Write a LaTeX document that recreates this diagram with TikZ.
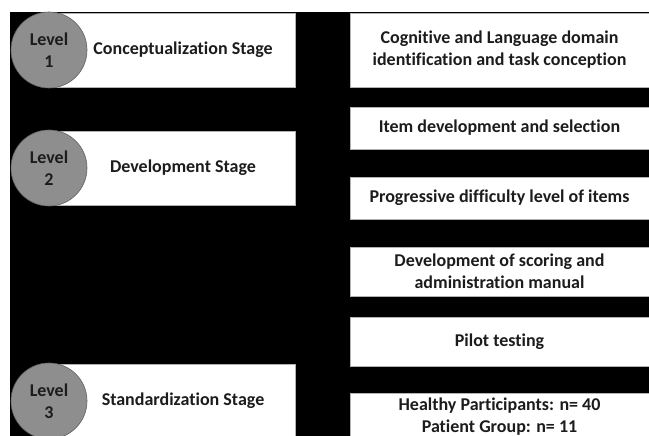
\documentclass[tikz,border=0pt]{standalone}
\usepackage{fontspec}
\setmainfont{Carlito}[Ligatures=NoCommon]
\usetikzlibrary{positioning}
\definecolor{textColor}{RGB}{28,28,28}
\definecolor{levelColor}{RGB}{142,142,142}
\definecolor{levelEdge}{RGB}{96,96,96}

\begin{document}
\begin{tikzpicture}[x=1pt,y=-1pt,textColor,font=\bfseries\fontsize{18}{22}\selectfont]
    \tikzstyle{stage} = [rectangle,fill=white,draw=gray!60,line width=.6pt,outer sep=0pt,minimum width=246pt,minimum height=74pt]
    \tikzstyle{stagetext} = [inner sep=0pt]
    \tikzstyle{level} = [circle,fill=levelColor,draw=levelEdge,line width=.6pt,minimum size=76pt,inner sep=0pt,align=center]
    \tikzstyle{stepbox} = [rectangle,fill=white,draw=gray!60,line width=.6pt,outer sep=0pt,minimum width=299pt,align=center]

    \useasboundingbox (0,0) rectangle (649,436);
    \clip (0,0) rectangle (649,436);
    \fill[white] (0,0) rectangle (649,436);
    \fill[black] (10,12) rectangle (649,436);

    % stages on the left
    \node [stage] at (172,50) (stage1) {};
    \node [stage, below=44pt of stage1] (stage2) {};
    \node [stage, below=159pt of stage2] (stage3) {};

    \node [stagetext] at ([xshift=11pt]stage1.center) (stage1txt) {Conceptualization Stage};
    \node [stagetext] at ([xshift=11pt]stage2.center) (stage2txt) {Development Stage};
    \node [stagetext] at ([xshift=11pt]stage3.center) (stage3txt) {Standardization Stage};

    \node [level] at (stage1.west) (lvl1) {Level\\1};
    \node [level] at (stage2.west) (lvl2) {Level\\2};
    \node [level] at (stage3.west) (lvl3) {Level\\3};

    % steps on the right
    \node [stepbox, minimum height=74pt] at (499.5,50) (domain) {Cognitive and Language domain\\identification and task conception};
    \node [stepbox, minimum height=42pt, below=20pt of domain] (items) {Item development and selection};
    \node [stepbox, minimum height=42pt, below=28pt of items] (difficulty) {Progressive difficulty level of items};
    \node [stepbox, minimum height=49pt, below=28pt of difficulty] (manual) {Development of scoring and\\administration manual};
    \node [stepbox, minimum height=49pt, below=21pt of manual] (pilot) {Pilot testing};
    \node [stepbox, minimum height=48pt, below=27pt of pilot] (sample) {Healthy Participants: n= 40\\Patient Group: n= 11};

\end{tikzpicture}
\end{document}
